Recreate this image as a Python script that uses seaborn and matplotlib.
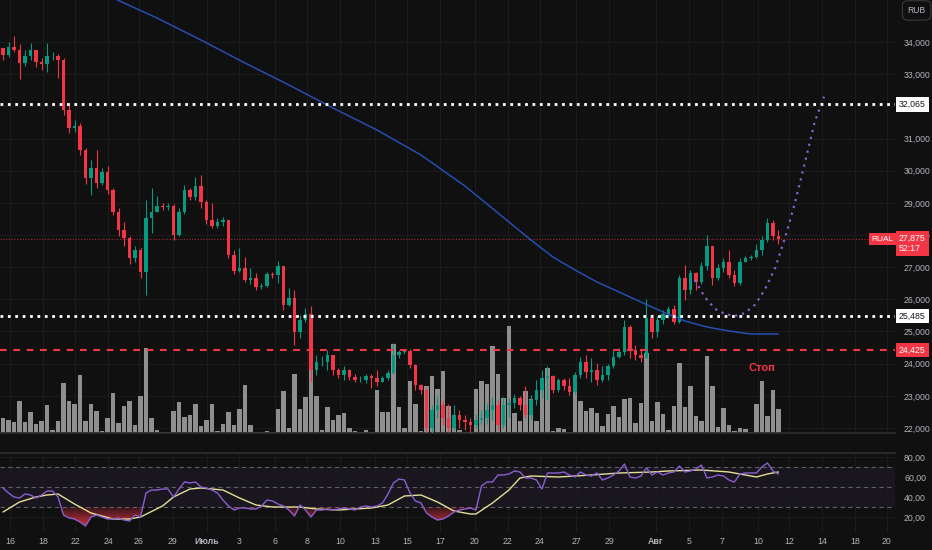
import numpy as np
import pandas as pd
import seaborn as sns
import matplotlib.pyplot as plt
from matplotlib import transforms
from matplotlib.colors import LinearSegmentedColormap
from matplotlib.path import Path

# RUAL, intraday bars 16 Jun - 11 Aug, prices in RUB
first_open = 33815
close = [33595, 33845, 33750, 33345, 33565, 33750, 33380, 33315, 33565, 33565,
         33440, 31885, 31325, 31390, 30640, 29770, 30085, 29615, 29960, 29400,
         28715, 28155, 27905, 27285, 27535, 26850, 28530, 28715, 28900, 28870,
         28900, 28000, 28715, 29400, 29180, 29525, 29025, 28465, 28280, 28405,
         28465, 27380, 26880, 26975, 26600, 26665, 26385, 26415, 26785, 26755,
         27035, 25825, 26040, 24985, 25355, 25545, 23805, 24050, 24050, 24270,
         23805, 23645, 23805, 23585, 23490, 23490, 23615, 23555, 23430, 23555,
         23710, 24270, 24360, 24395, 23960, 23335, 23180, 22000, 22560, 22715,
         22310, 22000, 22405, 22250, 22185, 22095, 22250, 22310, 22560, 22715,
         22095, 22715, 22775, 22930, 22715, 22405, 22870, 23180, 23555, 23615,
         23180, 23490, 23305, 23120, 23645, 24050, 23740, 23805, 23490, 23645,
         23925, 24205, 24360, 25140, 24425, 24270, 24175, 25420, 24985, 25355,
         25545, 25700, 25295, 26665, 26290, 26820, 26540, 27035, 27660, 26665,
         26975, 27160, 26755, 26510, 27160, 27285, 27315, 27535, 27845, 28375,
         27970, 27875]
high = [33815, 34000, 34180, 33940, 33750, 33970, 33750, 33505, 33970, 33690,
        33625, 33505, 32105, 31575, 31480, 30705, 30330, 30640, 30085, 30145,
        29460, 28840, 28405, 27970, 27660, 27595, 29090, 29460, 29210, 28995,
        28995, 28965, 28840, 29555, 29460, 29805, 29865, 29090, 28995, 28530,
        28560, 28465, 27535, 27595, 27315, 26975, 26820, 26510, 26850, 26850,
        27190, 27035, 26350, 26290, 25515, 25730, 25790, 24270, 24240, 24425,
        24270, 23865, 23925, 23835, 23680, 23615, 23680, 23680, 23805, 23615,
        23805, 24640, 24425, 24455, 24455, 23990, 23365, 23245, 22715, 22995,
        22870, 22745, 22715, 22560, 22405, 22310, 22435, 22560, 22775, 22965,
        22870, 22965, 22930, 23055, 22995, 23305, 23025, 23490, 23805, 23925,
        23645, 23555, 23555, 23555, 23740, 24205, 24270, 24175, 24020, 23925,
        23990, 24425, 24485, 25355, 25200, 24580, 24425, 26010, 25545, 25480,
        25670, 25790, 25825, 26755, 27065, 26910, 26850, 27160, 28000, 27660,
        27100, 27285, 27535, 26910, 27285, 27345, 27380, 27720, 27970, 28530,
        28465, 28155]
low = [33440, 33535, 33690, 32850, 33255, 33440, 33225, 33130, 33070, 33440,
       32880, 31730, 31170, 31200, 30485, 29585, 29245, 29460, 29560, 29275,
       28620, 27970, 27660, 27100, 27160, 26665, 26135, 28060, 28715, 28775,
       28775, 27845, 27970, 28655, 29090, 29090, 28840, 28340, 28215, 28215,
       28280, 27285, 26785, 26850, 26540, 26475, 26290, 26320, 26385, 26665,
       26510, 25670, 25790, 24580, 24800, 25295, 23430, 23645, 23925, 23805,
       23645, 23555, 23490, 23490, 23430, 23430, 23400, 23245, 23305, 23430,
       23490, 23680, 24175, 24300, 23865, 23180, 23055, 21845, 21845, 22310,
       22095, 21875, 21935, 22000, 21935, 21875, 22000, 22125, 22125, 22250,
       21935, 22000, 22340, 22620, 22560, 22310, 22250, 22715, 22930, 22870,
       23090, 23120, 23180, 23025, 23055, 23555, 23555, 23430, 23335, 23430,
       23490, 23865, 24175, 24270, 24175, 24115, 24050, 24175, 24800, 24830,
       25235, 25420, 25235, 25265, 25980, 26165, 26290, 26475, 26910, 26445,
       26600, 26850, 26665, 26415, 26445, 27160, 27225, 27285, 27380, 27780,
       27845, 27720]
# volume, thousand lots
volume = [15, 13, 11, 32, 11, 21, 9, 12, 28, 3,
          12, 50, 32, 29, 58, 12, 29, 22, 2, 15,
          40, 10, 27, 32, 8, 37, 85, 15, 3, 1,
          1, 22, 31, 16, 18, 29, 7, 13, 29, 2,
          9, 21, 8, 24, 48, 8, 1, 1, 2, 1,
          24, 42, 5, 59, 24, 36, 107, 37, 3, 26,
          13, 18, 20, 5, 2, 1, 3, 1, 43, 21,
          21, 89, 26, 5, 52, 29, 2, 47, 57, 44,
          62, 27, 17, 3, 1, 1, 44, 52, 49, 87,
          59, 35, 107, 20, 12, 42, 34, 12, 55, 65,
          2, 5, 4, 1, 42, 32, 22, 25, 20, 7,
          19, 27, 16, 34, 35, 10, 30, 80, 12, 31,
          19, 3, 27, 70, 26, 47, 17, 12, 77, 47,
          6, 25, 8, 2, 5, 4, 1, 29, 52, 17,
          43, 24]
rsi = [49, 44, 40, 39, 43, 42, 39, 42, 46, 46,
       40, 22, 19, 18, 15, 11, 20, 22, 20, 18,
       18, 19, 17, 16, 22, 20, 44, 47, 47, 48,
       48, 40, 48, 55, 54, 55, 50, 49, 47, 44,
       37, 31, 27, 29, 29, 28, 28, 31, 37, 36,
       33, 31, 27, 21, 32, 27, 20, 27, 27, 28,
       27, 28, 29, 28, 27, 30, 31, 30, 31, 34,
       43, 54, 58, 57, 44, 36, 34, 24, 20, 17,
       18, 21, 25, 27, 28, 29, 27, 51, 55, 55,
       62, 62, 63, 66, 65, 59, 59, 57, 48, 64,
       64, 64, 65, 62, 60, 65, 62, 61, 64, 57,
       59, 62, 66, 73, 60, 59, 61, 69, 62, 65,
       62, 64, 65, 71, 65, 66, 68, 72, 59, 60,
       62, 61, 57, 55, 63, 64, 64, 64, 70, 74,
       66, 63]
rsi_ma_bar = [0, 3, 6, 8, 10, 13, 16, 20, 23, 25, 29, 31, 34, 36, 40, 43, 46, 49,
              54, 57, 61, 67, 70, 73, 76, 79, 82, 85, 86, 89, 92, 94, 96, 101,
              107, 112, 118, 121, 127, 132, 135, 137, 139, 141]
rsi_ma = [25, 35, 40, 42, 43, 33, 24, 18, 18, 20, 31, 40, 48, 49, 47, 39, 32, 30,
          30, 28, 27, 29, 32, 41, 42, 35, 26, 23, 23, 34, 47, 59, 61, 60,
          62, 64, 65, 66, 67, 65, 62, 60, 63, 65]
sma_bar = [20, 28, 36, 44, 52, 60, 68, 76, 84, 88, 92, 96, 100, 104, 108, 112,
           116, 120, 124, 128, 132, 136, 141]
sma = [35368, 34746, 34062, 33347, 32663, 31948, 31264, 30487, 29523, 28964,
       28404, 27844, 27316, 26912, 26539, 26228, 25917, 25606, 25326, 25140,
       25015, 24922, 24922]
# hand drawn projection (purple dotted arc)
arc_bar = [125.8, 127.6, 129.5, 131.3, 133.1, 134.9, 136.7, 138.5, 140.4, 142.2,
           144.0, 145.8, 147.6, 149.3]
arc_price = [26600, 26072, 25700, 25544, 25482, 25575, 25824, 26290, 26974, 27907,
             28995, 30239, 31513, 32300]
level_white = [32065, 25485]
level_stop = 24425
last_price = 27875

date_pos = [1.3, 7.3, 13.1, 19.1, 24.7, 30.9, 37.1, 42.9, 49.5, 55.3, 61.3, 67.6,
            73.5, 79.5, 85.8, 91.8, 97.6, 104.2, 110.2, 118.7, 124.7, 130.7,
            137.3, 142.9, 148.9, 154.9, 160.7]
date_text = ['16', '18', '22', '24', '26', '29', 'Июль', '3', '6', '8', '10', '13',
             '15', '17', '20', '22', '24', '27', '29', 'Авг', '5', '7', '10', '12',
             '14', '18', '20']
price_ticks = list(range(22000, 35000, 1000))
rsi_ticks = [20, 40, 60, 80]

BG = '#101010'
TXT = '#b2b5be'
GREEN = '#089981'
RED = '#f23645'
GRID = '#1b1b1b'

sns.set_theme(style='dark', rc={
    'figure.facecolor': BG, 'axes.facecolor': BG, 'savefig.facecolor': BG,
    'axes.edgecolor': '#2c2c2c', 'grid.color': GRID, 'grid.linewidth': 0.8,
    'xtick.color': TXT, 'ytick.color': TXT, 'text.color': TXT,
})
plt.rcParams['font.family'] = ['Liberation Sans', 'DejaVu Sans']

df = pd.DataFrame({'close': close, 'high': high, 'low': low, 'volume': volume, 'rsi': rsi})
df['open'] = [first_open] + close[:-1]
df['bar'] = np.arange(len(df))
df['up'] = df['close'] >= df['open']
colors = np.where(df['up'], GREEN, RED)

fig = plt.figure(figsize=(9.32, 5.5), dpi=100)
ax = fig.add_axes([0, 0.21273, 0.96030, 0.78727])
ax_rsi = fig.add_axes([0, 0.03273, 0.96030, 0.14364], sharex=ax)

# ---- main pane ----
ax.set_axisbelow(True)
ax.grid(True, color=GRID, lw=0.8)

# volume along the bottom of the pane, in its own vertical scale
vol_trans = transforms.Affine2D().scale(1, 1 / 433) + \
    transforms.blended_transform_factory(ax.transData, ax.transAxes)
ax.bar(df['bar'], df['volume'], width=0.78, color='#8f8f8f', linewidth=0,
       transform=vol_trans, zorder=1)

# candles
ax.vlines(df['bar'], df['low'], df['high'], colors=colors, lw=0.8, zorder=3)
body = np.maximum((df['close'] - df['open']).abs(), 14)
ax.bar(df['bar'], body, bottom=np.minimum(df['open'], df['close']), width=0.62,
       color=colors, linewidth=0, zorder=4)

sns.lineplot(x=sma_bar, y=sma, ax=ax, color='#2450b8', lw=1.05, zorder=5)
ax.plot(arc_bar, arc_price, color='#8a5fd0', lw=1.6, ls=(0, (1, 2.2)), zorder=5)

for lv in level_white:
    ax.axhline(lv, color='white', lw=2, ls=(0, (1, 1.66)), zorder=6)
ax.axhline(level_stop, color=RED, lw=1.5, ls=(0, (3.2, 3.2)), zorder=6)
ax.axhline(last_price, color='#a52a36', lw=0.8, ls=(0, (1, 1.5)), zorder=2)

ax.text(138, 23865, 'Стоп', ha='center', va='center', color=RED, fontsize=8,
        fontweight='bold', zorder=7)

ax.set_xlim(-0.55, 162.2)
ax.set_ylim(21844, 35306)
ax.yaxis.tick_right()
ax.set_yticks(price_ticks)
# 32,000 sits under the 32,065 level tag, as on the original
ax.set_yticklabels(['' if v == 32000 else f'{v:,}' for v in price_ticks])
ax.set_xticks(date_pos)
ax.tick_params(axis='x', labelbottom=False, length=0)
ax.tick_params(axis='y', length=0, pad=6.5, labelsize=6.3, labelcolor=TXT)
ax.set_xlabel('')
ax.set_ylabel('')
for side in ['top', 'left', 'right']:
    ax.spines[side].set_visible(False)
ax.spines['bottom'].set_color('#2c2c2c')

yb = transforms.blended_transform_factory(ax.transAxes, ax.transData)
for lv in level_white:
    ax.text(1.0045, lv, f'{lv:,}', transform=yb, ha='left', va='center', fontsize=6.3,
            color='#131722', clip_on=False, zorder=10,
            bbox=dict(boxstyle='square,pad=0.32', fc='white', ec='none'))
ax.text(1.0045, level_stop, f'{level_stop:,}', transform=yb, ha='left', va='center',
        fontsize=6.3, color='white', clip_on=False, zorder=10,
        bbox=dict(boxstyle='square,pad=0.32', fc=RED, ec='none'))
ax.annotate(f'{last_price:,}\n52:17', xy=(1.0045, last_price), xycoords=yb,
            xytext=(0, -3.2), textcoords='offset points', ha='left', va='center',
            fontsize=6.3, color='white', linespacing=1.1, annotation_clip=False, zorder=10,
            bbox=dict(boxstyle='square,pad=0.32', fc=RED, ec='none'))
ax.text(0.9985, last_price, 'RUAL', transform=yb, ha='right', va='center', fontsize=6,
        color='white', clip_on=False, zorder=10,
        bbox=dict(boxstyle='square,pad=0.3', fc=RED, ec='none'))
fig.text(0.9835, 0.981, 'RUB', ha='center', va='center', fontsize=6.2, color=TXT,
         bbox=dict(boxstyle='round,pad=0.6', fc=BG, ec='#3a3a3a', lw=0.8))

# ---- RSI pane ----
ax_rsi.set_axisbelow(True)
ax_rsi.grid(True, color=GRID, lw=0.8)
ax_rsi.axhspan(30, 70, color='#7e57c2', alpha=0.09, lw=0, zorder=0)
for lv in [70, 50, 30]:
    ax_rsi.axhline(lv, color='#5e5e66', lw=0.8, ls=(0, (4, 3)), zorder=1)

rsi_arr = df['rsi'].to_numpy(dtype=float)
fill = ax_rsi.fill_between(df['bar'], rsi_arr, 30, where=rsi_arr < 30,
                           interpolate=True, color='none', lw=0)
clip = Path.make_compound_path(*fill.get_paths())
red_cmap = LinearSegmentedColormap.from_list(
    'oversold', [(0.95, 0.21, 0.27, 0.12), (0.95, 0.21, 0.27, 0.95)])
grad = np.linspace(1, 0, 200).reshape(-1, 1)
im = ax_rsi.imshow(grad, extent=[-0.55, 162.2, 8, 30], origin='lower', aspect='auto',
                   cmap=red_cmap, vmin=0, vmax=1, zorder=2)
im.set_clip_path(clip, transform=ax_rsi.transData)

sns.lineplot(x=rsi_ma_bar, y=rsi_ma, ax=ax_rsi, color='#e3df96', lw=1.0, zorder=3)
sns.lineplot(data=df, x='bar', y='rsi', ax=ax_rsi, color='#8a5fd0', lw=1.0, zorder=4)

ax_rsi.set_xlim(-0.55, 162.2)
ax_rsi.set_ylim(5, 84)
ax_rsi.yaxis.tick_right()
ax_rsi.set_yticks(rsi_ticks)
ax_rsi.set_yticklabels([f'{v},00' for v in rsi_ticks])
ax_rsi.set_xticks(date_pos)
ax_rsi.set_xticklabels(date_text)
for lab in ax_rsi.get_xticklabels():
    if lab.get_text() in ('Июль', 'Авг'):
        lab.set_fontweight('bold')
ax_rsi.tick_params(axis='y', length=0, pad=6.5, labelsize=6.3, labelcolor=TXT)
ax_rsi.tick_params(axis='x', length=0, pad=3.4, labelsize=6.3, labelcolor=TXT)
ax_rsi.set_xlabel('')
ax_rsi.set_ylabel('')
for side in ['bottom', 'left', 'right']:
    ax_rsi.spines[side].set_visible(False)
ax_rsi.spines['top'].set_color('#2c2c2c')

fig.savefig('out.png', dpi=100, facecolor=BG)
